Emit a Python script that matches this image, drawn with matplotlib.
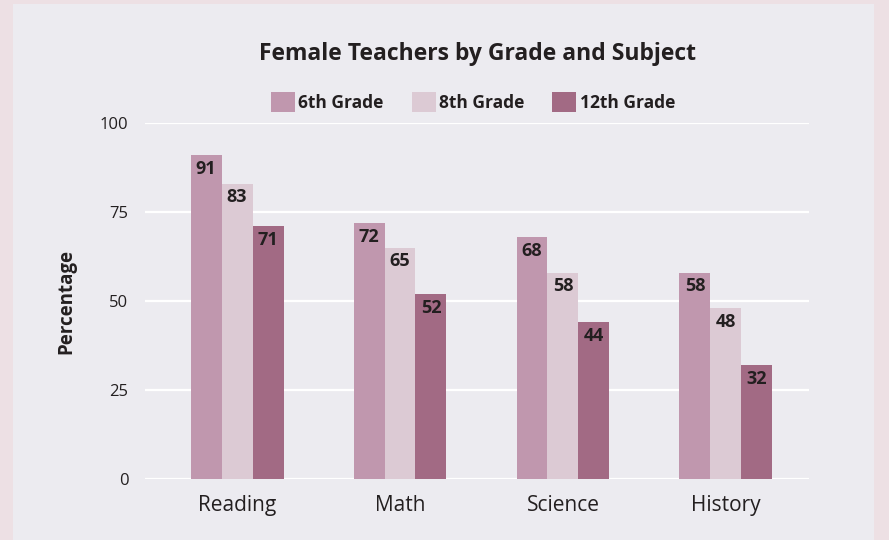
import numpy as np
import matplotlib.pyplot as plt
from matplotlib.patches import Rectangle

subjects = ['Reading', 'Math', 'Science', 'History']
grades = ['6th Grade', '8th Grade', '12th Grade']
grade6 = [91, 72, 68, 58]
grade8 = [83, 65, 58, 48]
grade12 = [71, 52, 44, 32]
colors = ['#c097ae', '#dccad4', '#a26a84']

plt.rcParams['font.family'] = ['Open Sans', 'DejaVu Sans']
txt = '#231f20'

fig = plt.figure(figsize=(8.89, 5.40), dpi=100)
fig.patch.set_facecolor('#ede0e4')
fig.patches.append(Rectangle((13/889, 0), (874-13)/889, 1-4/540,
                             transform=fig.transFigure, facecolor='#ecebf0',
                             edgecolor='none', zorder=-10))

ax = fig.add_axes([145/889, 1-479/540, (809-145)/889, (479-123)/540])
ax.set_facecolor('none')
ax.set_zorder(1)

x = np.arange(len(subjects))
w = 0.19
for k, vals in enumerate([grade6, grade8, grade12]):
    bars = ax.bar(x + (k-1)*w, vals, w, color=colors[k], label=grades[k], zorder=3)
    for b, v in zip(bars, vals):
        ax.annotate(str(v), (b.get_x() + b.get_width()/2, v), xytext=(0, -3.5),
                    textcoords='offset points', ha='center', va='top',
                    fontsize=13, fontweight='bold', color=txt, zorder=4)

ax.set_ylim(0, 100)
ax.set_xlim(-0.565, 3.51)
ax.set_yticks([0, 25, 50, 75, 100])
ax.yaxis.grid(True, color='white', linewidth=1.6, zorder=1)
ax.set_axisbelow(True)
for s in ax.spines.values():
    s.set_visible(False)
ax.axhline(0, color='white', linewidth=2, zorder=2)
ax.tick_params(axis='both', length=0, colors=txt)
ax.tick_params(axis='y', labelsize=12, pad=12)
ax.tick_params(axis='x', labelsize=15, pad=11.5)
ax.set_xticks(x)
ax.set_xticklabels(subjects)
ax.set_ylabel('Percentage', fontsize=13.5, fontweight='bold', color=txt, labelpad=17)

fig.text(0.537, 1-60/540, 'Female Teachers by Grade and Subject', ha='center', va='baseline',
         fontsize=16.5, fontweight='bold', color=txt)
fig.legend(loc='center', bbox_to_anchor=(0.532, 1-102/540), ncol=3, frameon=False,
           prop={'weight': 'bold', 'size': 12.5}, handlelength=1.38, handleheight=1.38,
           handletextpad=0.2, columnspacing=1.6, labelcolor=txt)

fig.savefig('out.png', dpi=100, facecolor=fig.get_facecolor())
